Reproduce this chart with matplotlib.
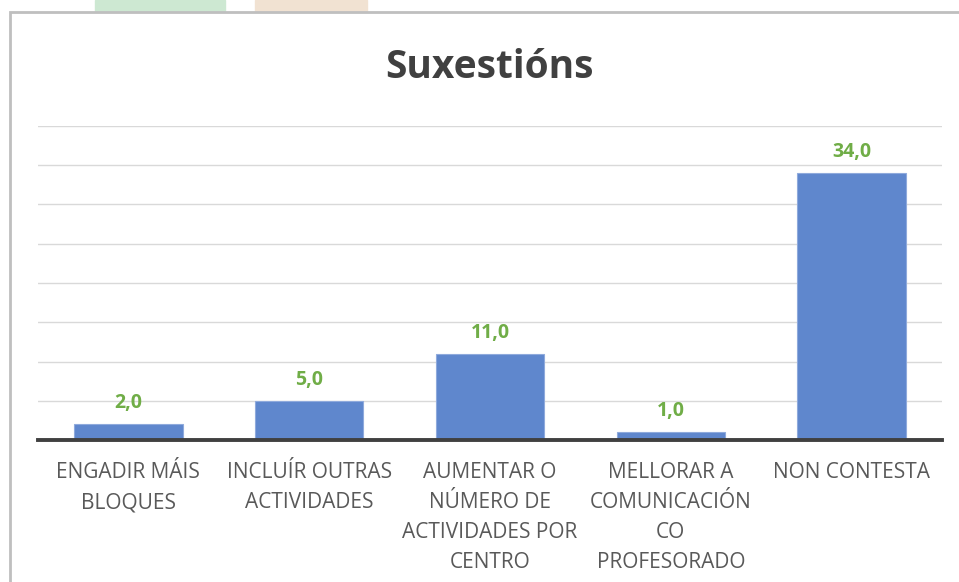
import matplotlib.pyplot as plt
from matplotlib.patches import Rectangle

categories = [
    "ENGADIR MÁIS\nBLOQUES",
    "INCLUÍR OUTRAS\nACTIVIDADES",
    "AUMENTAR O\nNÚMERO DE\nACTIVIDADES POR\nCENTRO",
    "MELLORAR A\nCOMUNICACIÓN\nCO\nPROFESORADO",
    "NON CONTESTA",
]
values = [2.0, 5.0, 11.0, 1.0, 34.0]

plt.rcParams["font.family"] = ["Open Sans", "DejaVu Sans"]

fig = plt.figure(figsize=(9.59, 5.82), dpi=100)
fig.patch.set_facecolor("white")

# faint remains of the picture behind the chart
fig.patches.append(Rectangle((95 / 959, 1 - 12 / 582), 130 / 959, 12 / 582,
                             transform=fig.transFigure, color="#CDE8D2", zorder=-3))
fig.patches.append(Rectangle((255 / 959, 1 - 12 / 582), 112 / 959, 12 / 582,
                             transform=fig.transFigure, color="#F1E2D2", zorder=-3))
# chart frame
fig.patches.append(Rectangle((10 / 959, -0.05), 1.0, 1.05 - 12 / 582,
                             transform=fig.transFigure, facecolor="white",
                             edgecolor="#BFBFBF", linewidth=2, zorder=-2))

ax = fig.add_axes([38 / 959, 1 - 440 / 582, 904 / 959, 314 / 582])
ax.set_facecolor("none")
x = range(len(categories))
bars = ax.bar(x, values, width=0.6, color="#5F87CD", edgecolor="#8FAADC",
              linewidth=0.8, zorder=3)
ax.set_xlim(-0.5, len(categories) - 0.5)
ax.set_ylim(0, 40)
ax.set_yticks(range(0, 41, 5))
ax.yaxis.grid(True, color="#D9D9D9", linewidth=1)
ax.set_axisbelow(True)
ax.tick_params(axis="y", left=False, labelleft=False)
ax.tick_params(axis="x", length=0, pad=16, labelsize=15, labelcolor="#595959")
ax.set_xticks(list(x))
ax.set_xticklabels(categories, linespacing=1.55, va="top")
for side in ["top", "right", "left"]:
    ax.spines[side].set_visible(False)
ax.spines["bottom"].set_color("#404040")
ax.spines["bottom"].set_linewidth(2.8)
ax.spines["bottom"].set_zorder(4)

for b, v in zip(bars, values):
    ax.annotate(f"{v:.1f}".replace(".", ","), (b.get_x() + b.get_width() / 2, v),
                xytext=(0, 8), textcoords="offset points", ha="center", va="bottom",
                color="#70AD47", fontsize=14, fontweight="bold")

fig.text(489 / 959, 1 - 67 / 582, "Suxestións", ha="center", va="center",
         fontsize=28, fontweight="bold", color="#404040")

fig.savefig("out.png", dpi=100)
